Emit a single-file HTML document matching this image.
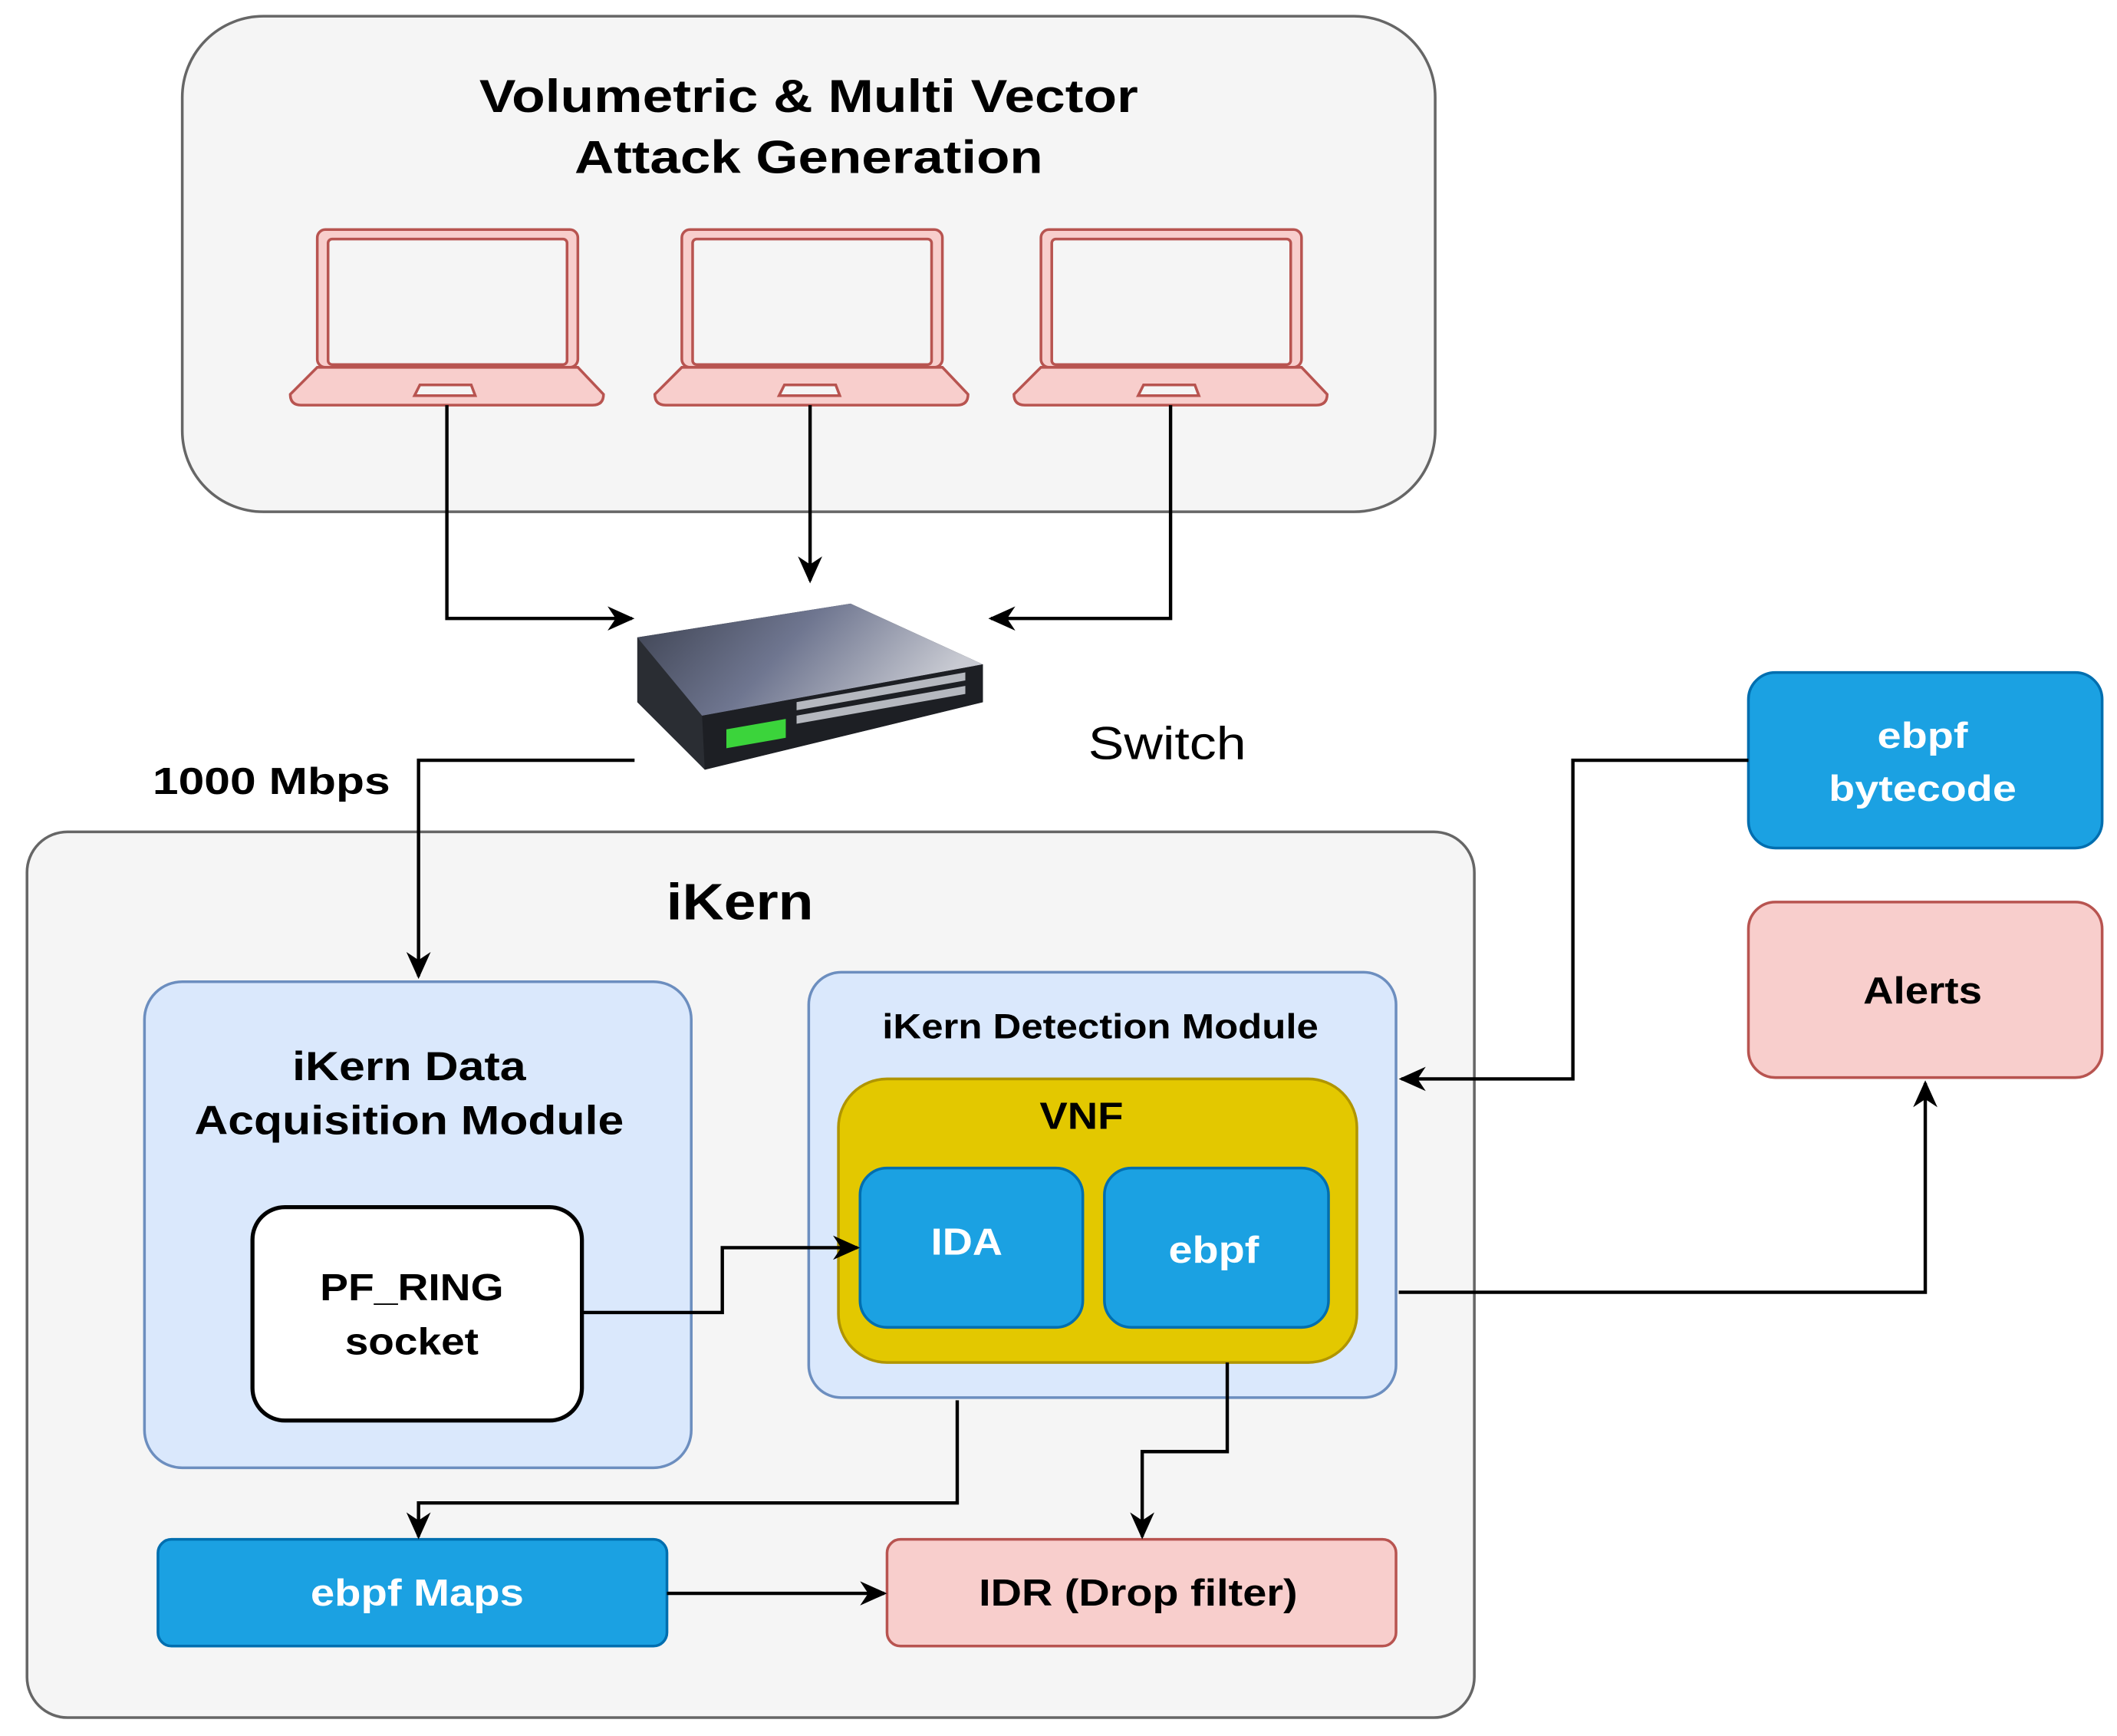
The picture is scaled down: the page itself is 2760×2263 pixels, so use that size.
<!DOCTYPE html>
<html><head><meta charset="utf-8"><style>html,body{margin:0;padding:0;background:#fff}svg{display:block}</style></head>
<body>
<svg width="2760" height="2263" viewBox="0 0 1568 1285.6" xmlns="http://www.w3.org/2000/svg" font-family="'Liberation Sans', sans-serif">
<defs>
<marker id="b" viewBox="0 0 10 10" refX="9" refY="5" markerWidth="20" markerHeight="20" markerUnits="userSpaceOnUse" orient="auto"><path d="M0,0.5 L10,5 L0,9.5 L3,5 z" fill="#000"/></marker>
<linearGradient id="sw" x1="0" y1="0" x2="1" y2="0.3"><stop offset="0" stop-color="#3c4150"/><stop offset="0.5" stop-color="#6f7690"/><stop offset="1" stop-color="#c8cad2"/></linearGradient>
</defs>
<rect x="135" y="12" width="928" height="367" rx="60" fill="#f5f5f5" stroke="#666" stroke-width="2"/>
<text x="599" y="83" font-size="34" font-weight="bold" text-anchor="middle" textLength="488" lengthAdjust="spacingAndGlyphs">Volumetric &amp; Multi Vector</text>
<text x="599" y="128" font-size="34" font-weight="bold" text-anchor="middle" textLength="347" lengthAdjust="spacingAndGlyphs">Attack Generation</text>
<g fill="#f8cecc" stroke="#b85450" stroke-width="2">
<g id="lp">
<rect x="235" y="170" width="193" height="102" rx="6"/>
<rect x="243" y="177" width="177" height="93" rx="3" fill="#f5f5f5"/>
<path d="M235,272 L428,272 L447,292 Q447,300 439,300 L223,300 Q215,300 215,292 Z"/>
<path d="M311,285 L349,285 L352,293 L307,293 Z" fill="#f5f5f5"/>
</g>
<use href="#lp" x="270"/>
<use href="#lp" x="536"/>
</g>
<g fill="none" stroke="#000" stroke-width="2.5">
<path d="M331,300 V458 H468" marker-end="url(#b)"/>
<path d="M600,300 V430" marker-end="url(#b)"/>
<path d="M867,300 V458 H734" marker-end="url(#b)"/>
</g>
<polygon points="472,472 630,447 728,492 728,520 522,570 472,520" fill="#2a2d33"/>
<polygon points="472,472 630,447 728,492 520,530" fill="url(#sw)"/>
<polygon points="520,530 728,492 728,520 522,570" fill="#1d1f24"/>
<g fill="#b5b8bf"><rect x="590" y="522" width="125" height="6" transform="skewY(-10) translate(0,102)"/><rect x="590" y="532" width="125" height="6" transform="skewY(-10) translate(0,102)"/></g>
<g fill="#3bd43b"><rect x="538" y="540" width="44" height="14" transform="skewY(-10) translate(0,95)"/></g>
<text x="806" y="562" font-size="34" textLength="117" lengthAdjust="spacingAndGlyphs">Switch</text>
<text x="113" y="588" font-size="28" font-weight="bold" textLength="176" lengthAdjust="spacingAndGlyphs">1000 Mbps</text>
<rect x="20" y="616" width="1072" height="656" rx="30" fill="#f5f5f5" stroke="#666" stroke-width="2"/>
<path d="M470,563 H310 V723" fill="none" stroke="#000" stroke-width="2.5" marker-end="url(#b)"/>
<text x="548" y="681" font-size="38" font-weight="bold" text-anchor="middle" textLength="109" lengthAdjust="spacingAndGlyphs">iKern</text>
<rect x="107" y="727" width="405" height="360" rx="28" fill="#dae8fc" stroke="#6c8ebf" stroke-width="2"/>
<text x="303" y="800" font-size="30" font-weight="bold" text-anchor="middle" textLength="173" lengthAdjust="spacingAndGlyphs">iKern Data</text>
<text x="303" y="840" font-size="30" font-weight="bold" text-anchor="middle" textLength="318" lengthAdjust="spacingAndGlyphs">Acquisition Module</text>
<rect x="187" y="894" width="244" height="158" rx="24" fill="#fff" stroke="#000" stroke-width="3"/>
<text x="305" y="963" font-size="28" font-weight="bold" text-anchor="middle" textLength="136" lengthAdjust="spacingAndGlyphs">PF_RING</text>
<text x="305" y="1003" font-size="28" font-weight="bold" text-anchor="middle" textLength="99" lengthAdjust="spacingAndGlyphs">socket</text>
<rect x="599" y="720" width="435" height="315" rx="24" fill="#dae8fc" stroke="#6c8ebf" stroke-width="2"/>
<text x="815" y="769" font-size="26" font-weight="bold" text-anchor="middle" textLength="323" lengthAdjust="spacingAndGlyphs">iKern Detection Module</text>
<rect x="621" y="799" width="384" height="210" rx="36" fill="#e3c800" stroke="#b09500" stroke-width="2"/>
<text x="801" y="836" font-size="28" font-weight="bold" text-anchor="middle" textLength="62" lengthAdjust="spacingAndGlyphs">VNF</text>
<rect x="637" y="865" width="165" height="118" rx="20" fill="#1ba1e2" stroke="#006eaf" stroke-width="2"/>
<text x="716" y="929" font-size="28" font-weight="bold" fill="#fff" text-anchor="middle" textLength="53" lengthAdjust="spacingAndGlyphs">IDA</text>
<rect x="818" y="865" width="166" height="118" rx="20" fill="#1ba1e2" stroke="#006eaf" stroke-width="2"/>
<text x="899" y="935" font-size="28" font-weight="bold" fill="#fff" text-anchor="middle" textLength="67" lengthAdjust="spacingAndGlyphs">ebpf</text>
<rect x="1295" y="498" width="262" height="130" rx="20" fill="#1ba1e2" stroke="#006eaf" stroke-width="2"/>
<text x="1424" y="554" font-size="27" font-weight="bold" fill="#fff" text-anchor="middle" textLength="67" lengthAdjust="spacingAndGlyphs">ebpf</text>
<text x="1424" y="593" font-size="27" font-weight="bold" fill="#fff" text-anchor="middle" textLength="139" lengthAdjust="spacingAndGlyphs">bytecode</text>
<rect x="1295" y="668" width="262" height="130" rx="20" fill="#f8cecc" stroke="#b85450" stroke-width="2"/>
<text x="1424" y="743" font-size="28" font-weight="bold" text-anchor="middle" textLength="88" lengthAdjust="spacingAndGlyphs">Alerts</text>
<rect x="117" y="1140" width="377" height="79" rx="10" fill="#1ba1e2" stroke="#006eaf" stroke-width="2"/>
<text x="309" y="1189" font-size="28" font-weight="bold" fill="#fff" text-anchor="middle" textLength="158" lengthAdjust="spacingAndGlyphs">ebpf Maps</text>
<rect x="657" y="1140" width="377" height="79" rx="10" fill="#f8cecc" stroke="#b85450" stroke-width="2"/>
<text x="843" y="1189" font-size="28" font-weight="bold" text-anchor="middle" textLength="236" lengthAdjust="spacingAndGlyphs">IDR (Drop filter)</text>
<g fill="none" stroke="#000" stroke-width="2.5">
<path d="M431,972 H535 V924 H635" marker-end="url(#b)"/>
<path d="M1295,563 H1165 V799 H1038" marker-end="url(#b)"/>
<path d="M1036,957 H1426 V802" marker-end="url(#b)"/>
<path d="M709,1037 V1113 H310 V1138" marker-end="url(#b)"/>
<path d="M909,1009 V1075 H846 V1138" marker-end="url(#b)"/>
<path d="M494,1180 H655" marker-end="url(#b)"/>
</g>
</svg>
</body></html>
